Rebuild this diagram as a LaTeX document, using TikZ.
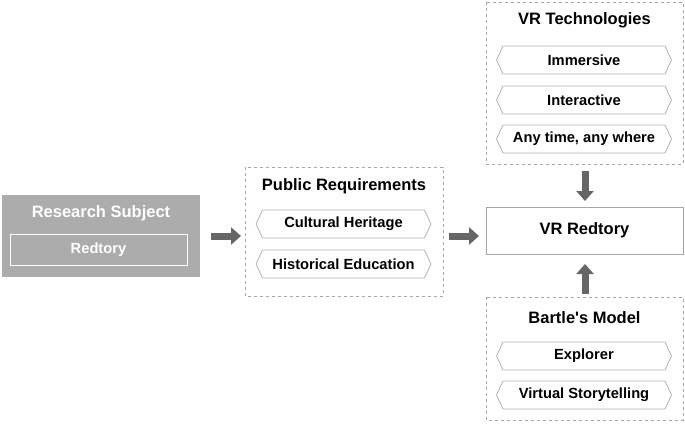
\documentclass[tikz,border=0pt]{standalone}
\usepackage{fontspec}
\setmainfont{Liberation Sans}[Ligatures=ResetAll]
\usetikzlibrary{shapes.symbols,arrows.meta}

\tikzset{
  group/.style={draw=gray!70, dashed, line width=0.8pt},
  title/.style={font=\fontsize{16.5}{19}\selectfont\bfseries},
  item/.style={signal, signal to=west and east, signal pointer angle=130,
    draw=gray!60, line width=0.8pt, minimum width=175pt, minimum height=28pt,
    inner xsep=0pt, font=\fontsize{14.7}{17}\selectfont\bfseries},
  flow/.style={draw=gray!80!black, line width=7pt,
    -{Triangle[length=10pt,width=17pt]}, shorten >=0pt}
}

\begin{document}
\begin{tikzpicture}[x=1pt,y=-1pt]
  \useasboundingbox (0,0) rectangle (685,423);

  % research subject
  \fill[gray!65] (2,195) rectangle (200,277);
  \node[title, text=white] (subj) at (101,213) {Research Subject};
  \node[draw=white, line width=0.8pt, minimum width=177pt, minimum height=31pt,
    text=white, font=\fontsize{14.7}{17}\selectfont\bfseries] (redtory) at (98.5,249.5) {Redtory};

  % public requirements
  \draw[group] (245,167) rectangle (443,296);
  \node[title] (pub) at (344,186) {Public Requirements};
  \node[item] (herit) at (343.5,224) {Cultural Heritage};
  \node[item] (edu) at (343.5,264) {Historical Education};

  % result
  \node[draw=gray!70, line width=0.8pt, minimum width=197pt, minimum height=47pt,
    title] (vr) at (584.5,230.5) {VR Redtory};

  % vr technologies
  \draw[group] (486,2) rectangle (683,164);
  \node[title] (tech) at (584.5,20) {VR Technologies};
  \node[item] (imm) at (584,60) {Immersive};
  \node[item] (inter) at (584,100) {Interactive};
  \node[item] (any) at (584,139) {Any time, any where};

  % bartle's model
  \draw[group] (486,297) rectangle (683,420);
  \node[title] (bartle) at (584.5,318) {Bartle\textquotesingle s Model};
  \node[item] (expl) at (584,356) {Explorer};
  \node[item] (story) at (584,395) {Virtual Storytelling};

  % arrows
  \coordinate (a1) at (211,236); \coordinate (b1) at (241,236);
  \coordinate (a2) at (449,236); \coordinate (b2) at (479,236);
  \coordinate (a3) at (585,171); \coordinate (b3) at (585,201);
  \coordinate (a4) at (585,294); \coordinate (b4) at (585,264);
  \draw[flow] (a1) -- (b1);
  \draw[flow] (a2) -- (b2);
  \draw[flow] (a3) -- (b3);
  \draw[flow] (a4) -- (b4);
\end{tikzpicture}
\end{document}
